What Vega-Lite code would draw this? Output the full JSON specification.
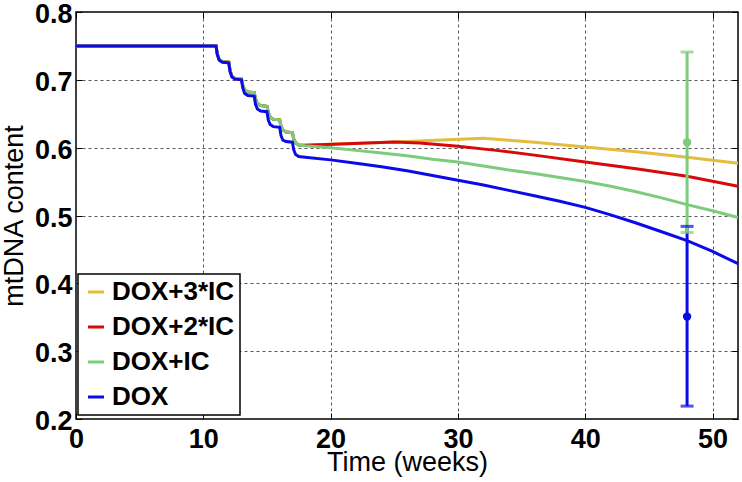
{
  "$schema": "https://vega.github.io/schema/vega-lite/v6.json",
  "width": 662,
  "height": 407,
  "autosize": {"type": "none"},
  "padding": {"left": 76, "top": 12, "right": 4, "bottom": 63},
  "background": "white",
  "config": {
    "view": {"stroke": "black", "strokeWidth": 1.5},
    "font": "Liberation Sans",
    "axis": {
      "domain": false,
      "grid": true,
      "gridDash": [3, 3],
      "gridColor": "#444444",
      "gridWidth": 0.9,
      "tickColor": "black",
      "tickSize": -6,
      "tickWidth": 1,
      "labelFont": "Liberation Sans",
      "labelFontWeight": "bold",
      "labelFontSize": 27,
      "labelColor": "black",
      "titleFont": "Liberation Sans",
      "titleFontWeight": "normal",
      "titleFontSize": 27,
      "titleColor": "black",
      "labelFlush": false,
      "labelOverlap": false
    },
    "legend": {
      "orient": "none",
      "legendX": 2,
      "legendY": 262,
      "strokeColor": "black",
      "strokeWidth": 1.5,
      "fillColor": "white",
      "padding": 5,
      "cornerRadius": 0,
      "symbolType": "stroke",
      "symbolSize": 256,
      "symbolStrokeWidth": 3,
      "labelFont": "Liberation Sans",
      "labelFontWeight": "bold",
      "labelFontSize": 26,
      "labelColor": "black",
      "labelLimit": 400,
      "labelOffset": 3,
      "rowPadding": 9
    }
  },
  "datasets": {
    "lines": [
      {"s": "DOX+3*IC", "t": 0, "v": 0.75}, {"s": "DOX+3*IC", "t": 11, "v": 0.75},
      {"s": "DOX+3*IC", "t": 11.1, "v": 0.738}, {"s": "DOX+3*IC", "t": 11.25, "v": 0.73}, {"s": "DOX+3*IC", "t": 11.5, "v": 0.727}, {"s": "DOX+3*IC", "t": 12, "v": 0.726},
      {"s": "DOX+3*IC", "t": 12.1, "v": 0.714}, {"s": "DOX+3*IC", "t": 12.25, "v": 0.705}, {"s": "DOX+3*IC", "t": 12.5, "v": 0.702}, {"s": "DOX+3*IC", "t": 13, "v": 0.701},
      {"s": "DOX+3*IC", "t": 13.1, "v": 0.692}, {"s": "DOX+3*IC", "t": 13.25, "v": 0.685}, {"s": "DOX+3*IC", "t": 13.5, "v": 0.682}, {"s": "DOX+3*IC", "t": 14, "v": 0.681},
      {"s": "DOX+3*IC", "t": 14.1, "v": 0.672}, {"s": "DOX+3*IC", "t": 14.25, "v": 0.665}, {"s": "DOX+3*IC", "t": 14.5, "v": 0.662}, {"s": "DOX+3*IC", "t": 15, "v": 0.661},
      {"s": "DOX+3*IC", "t": 15.1, "v": 0.652}, {"s": "DOX+3*IC", "t": 15.25, "v": 0.645}, {"s": "DOX+3*IC", "t": 15.5, "v": 0.642}, {"s": "DOX+3*IC", "t": 16, "v": 0.641},
      {"s": "DOX+3*IC", "t": 16.1, "v": 0.632}, {"s": "DOX+3*IC", "t": 16.25, "v": 0.626}, {"s": "DOX+3*IC", "t": 16.5, "v": 0.623}, {"s": "DOX+3*IC", "t": 17, "v": 0.622},
      {"s": "DOX+3*IC", "t": 17.1, "v": 0.613}, {"s": "DOX+3*IC", "t": 17.25, "v": 0.607}, {"s": "DOX+3*IC", "t": 17.5, "v": 0.604}, {"s": "DOX+3*IC", "t": 18, "v": 0.6035},
      {"s": "DOX+3*IC", "t": 25, "v": 0.6085}, {"s": "DOX+3*IC", "t": 32, "v": 0.614}, {"s": "DOX+3*IC", "t": 34, "v": 0.611}, {"s": "DOX+3*IC", "t": 36, "v": 0.608},
      {"s": "DOX+3*IC", "t": 40, "v": 0.601}, {"s": "DOX+3*IC", "t": 44, "v": 0.594}, {"s": "DOX+3*IC", "t": 48, "v": 0.586}, {"s": "DOX+3*IC", "t": 52, "v": 0.577},

      {"s": "DOX+2*IC", "t": 0, "v": 0.75}, {"s": "DOX+2*IC", "t": 11, "v": 0.75},
      {"s": "DOX+2*IC", "t": 11.1, "v": 0.738}, {"s": "DOX+2*IC", "t": 11.25, "v": 0.73}, {"s": "DOX+2*IC", "t": 11.5, "v": 0.727}, {"s": "DOX+2*IC", "t": 12, "v": 0.726},
      {"s": "DOX+2*IC", "t": 12.1, "v": 0.714}, {"s": "DOX+2*IC", "t": 12.25, "v": 0.705}, {"s": "DOX+2*IC", "t": 12.5, "v": 0.702}, {"s": "DOX+2*IC", "t": 13, "v": 0.701},
      {"s": "DOX+2*IC", "t": 13.1, "v": 0.692}, {"s": "DOX+2*IC", "t": 13.25, "v": 0.685}, {"s": "DOX+2*IC", "t": 13.5, "v": 0.682}, {"s": "DOX+2*IC", "t": 14, "v": 0.681},
      {"s": "DOX+2*IC", "t": 14.1, "v": 0.672}, {"s": "DOX+2*IC", "t": 14.25, "v": 0.665}, {"s": "DOX+2*IC", "t": 14.5, "v": 0.662}, {"s": "DOX+2*IC", "t": 15, "v": 0.661},
      {"s": "DOX+2*IC", "t": 15.1, "v": 0.652}, {"s": "DOX+2*IC", "t": 15.25, "v": 0.645}, {"s": "DOX+2*IC", "t": 15.5, "v": 0.642}, {"s": "DOX+2*IC", "t": 16, "v": 0.641},
      {"s": "DOX+2*IC", "t": 16.1, "v": 0.632}, {"s": "DOX+2*IC", "t": 16.25, "v": 0.626}, {"s": "DOX+2*IC", "t": 16.5, "v": 0.623}, {"s": "DOX+2*IC", "t": 17, "v": 0.622},
      {"s": "DOX+2*IC", "t": 17.1, "v": 0.613}, {"s": "DOX+2*IC", "t": 17.25, "v": 0.607}, {"s": "DOX+2*IC", "t": 17.5, "v": 0.604}, {"s": "DOX+2*IC", "t": 18, "v": 0.6035},
      {"s": "DOX+2*IC", "t": 25, "v": 0.6085}, {"s": "DOX+2*IC", "t": 27, "v": 0.607}, {"s": "DOX+2*IC", "t": 30, "v": 0.602}, {"s": "DOX+2*IC", "t": 33, "v": 0.596},
      {"s": "DOX+2*IC", "t": 36, "v": 0.589}, {"s": "DOX+2*IC", "t": 40, "v": 0.579}, {"s": "DOX+2*IC", "t": 44, "v": 0.569}, {"s": "DOX+2*IC", "t": 48, "v": 0.558}, {"s": "DOX+2*IC", "t": 52, "v": 0.543},

      {"s": "DOX+IC", "t": 0, "v": 0.75}, {"s": "DOX+IC", "t": 11, "v": 0.75},
      {"s": "DOX+IC", "t": 11.1, "v": 0.738}, {"s": "DOX+IC", "t": 11.25, "v": 0.73}, {"s": "DOX+IC", "t": 11.5, "v": 0.727}, {"s": "DOX+IC", "t": 12, "v": 0.726},
      {"s": "DOX+IC", "t": 12.1, "v": 0.714}, {"s": "DOX+IC", "t": 12.25, "v": 0.705}, {"s": "DOX+IC", "t": 12.5, "v": 0.702}, {"s": "DOX+IC", "t": 13, "v": 0.701},
      {"s": "DOX+IC", "t": 13.1, "v": 0.692}, {"s": "DOX+IC", "t": 13.25, "v": 0.685}, {"s": "DOX+IC", "t": 13.5, "v": 0.682}, {"s": "DOX+IC", "t": 14, "v": 0.681},
      {"s": "DOX+IC", "t": 14.1, "v": 0.672}, {"s": "DOX+IC", "t": 14.25, "v": 0.665}, {"s": "DOX+IC", "t": 14.5, "v": 0.662}, {"s": "DOX+IC", "t": 15, "v": 0.661},
      {"s": "DOX+IC", "t": 15.1, "v": 0.652}, {"s": "DOX+IC", "t": 15.25, "v": 0.645}, {"s": "DOX+IC", "t": 15.5, "v": 0.642}, {"s": "DOX+IC", "t": 16, "v": 0.641},
      {"s": "DOX+IC", "t": 16.1, "v": 0.632}, {"s": "DOX+IC", "t": 16.25, "v": 0.626}, {"s": "DOX+IC", "t": 16.5, "v": 0.623}, {"s": "DOX+IC", "t": 17, "v": 0.622},
      {"s": "DOX+IC", "t": 17.1, "v": 0.613}, {"s": "DOX+IC", "t": 17.25, "v": 0.607}, {"s": "DOX+IC", "t": 17.5, "v": 0.604}, {"s": "DOX+IC", "t": 18, "v": 0.603},
      {"s": "DOX+IC", "t": 20, "v": 0.6}, {"s": "DOX+IC", "t": 22, "v": 0.596}, {"s": "DOX+IC", "t": 24, "v": 0.592}, {"s": "DOX+IC", "t": 26, "v": 0.588},
      {"s": "DOX+IC", "t": 28, "v": 0.583}, {"s": "DOX+IC", "t": 30, "v": 0.579}, {"s": "DOX+IC", "t": 32, "v": 0.573}, {"s": "DOX+IC", "t": 34, "v": 0.567},
      {"s": "DOX+IC", "t": 36, "v": 0.562}, {"s": "DOX+IC", "t": 38, "v": 0.556}, {"s": "DOX+IC", "t": 40, "v": 0.55}, {"s": "DOX+IC", "t": 42, "v": 0.543},
      {"s": "DOX+IC", "t": 44, "v": 0.535}, {"s": "DOX+IC", "t": 46, "v": 0.526}, {"s": "DOX+IC", "t": 48, "v": 0.516}, {"s": "DOX+IC", "t": 50, "v": 0.507}, {"s": "DOX+IC", "t": 52, "v": 0.497},

      {"s": "DOX", "t": 0, "v": 0.75}, {"s": "DOX", "t": 11, "v": 0.75},
      {"s": "DOX", "t": 11.1, "v": 0.737}, {"s": "DOX", "t": 11.25, "v": 0.729}, {"s": "DOX", "t": 11.5, "v": 0.726}, {"s": "DOX", "t": 12, "v": 0.725},
      {"s": "DOX", "t": 12.1, "v": 0.712}, {"s": "DOX", "t": 12.25, "v": 0.704}, {"s": "DOX", "t": 12.5, "v": 0.701}, {"s": "DOX", "t": 13, "v": 0.7},
      {"s": "DOX", "t": 13.1, "v": 0.688}, {"s": "DOX", "t": 13.25, "v": 0.68}, {"s": "DOX", "t": 13.5, "v": 0.677}, {"s": "DOX", "t": 14, "v": 0.676},
      {"s": "DOX", "t": 14.1, "v": 0.664}, {"s": "DOX", "t": 14.25, "v": 0.657}, {"s": "DOX", "t": 14.5, "v": 0.654}, {"s": "DOX", "t": 15, "v": 0.653},
      {"s": "DOX", "t": 15.1, "v": 0.641}, {"s": "DOX", "t": 15.25, "v": 0.634}, {"s": "DOX", "t": 15.5, "v": 0.631}, {"s": "DOX", "t": 16, "v": 0.63},
      {"s": "DOX", "t": 16.1, "v": 0.618}, {"s": "DOX", "t": 16.25, "v": 0.611}, {"s": "DOX", "t": 16.5, "v": 0.609}, {"s": "DOX", "t": 17, "v": 0.608},
      {"s": "DOX", "t": 17.1, "v": 0.597}, {"s": "DOX", "t": 17.25, "v": 0.59}, {"s": "DOX", "t": 17.5, "v": 0.587}, {"s": "DOX", "t": 18, "v": 0.586},
      {"s": "DOX", "t": 20, "v": 0.582}, {"s": "DOX", "t": 22, "v": 0.577}, {"s": "DOX", "t": 24, "v": 0.572}, {"s": "DOX", "t": 26, "v": 0.566},
      {"s": "DOX", "t": 28, "v": 0.559}, {"s": "DOX", "t": 30, "v": 0.552}, {"s": "DOX", "t": 32, "v": 0.545}, {"s": "DOX", "t": 34, "v": 0.537},
      {"s": "DOX", "t": 36, "v": 0.529}, {"s": "DOX", "t": 38, "v": 0.521}, {"s": "DOX", "t": 40, "v": 0.512}, {"s": "DOX", "t": 42, "v": 0.501},
      {"s": "DOX", "t": 44, "v": 0.489}, {"s": "DOX", "t": 46, "v": 0.476}, {"s": "DOX", "t": 48, "v": 0.463}, {"s": "DOX", "t": 50, "v": 0.447}, {"s": "DOX", "t": 52, "v": 0.429}
    ],
    "err": [
      {"s": "DOX", "t": 48, "m": 0.351, "lo": 0.219, "hi": 0.484},
      {"s": "DOX+IC", "t": 48, "m": 0.608, "lo": 0.475, "hi": 0.741}
    ]
  },
  "layer": [
    {
      "data": {"name": "lines"},
      "mark": {"type": "line", "strokeWidth": 3, "interpolate": "linear"},
      "encoding": {
        "x": {"field": "t", "type": "quantitative", "scale": {"domain": [0, 52], "nice": false, "zero": false},
              "axis": {"orient": "bottom", "values": [0, 10, 20, 30, 40, 50], "title": "Time (weeks)", "labelPadding": 13, "titleY": 51, "titleBaseline": "alphabetic"}},
        "y": {"field": "v", "type": "quantitative", "scale": {"domain": [0.2, 0.8], "nice": false, "zero": false},
              "axis": {"orient": "left", "values": [0.2, 0.3, 0.4, 0.5, 0.6, 0.7, 0.8], "format": ".1f", "title": "mtDNA content", "labelPadding": 10, "labelOffset": 2.5, "titleX": -54, "titleBaseline": "alphabetic"}},
        "color": {"field": "s", "type": "nominal",
                  "scale": {"domain": ["DOX+3*IC", "DOX+2*IC", "DOX+IC", "DOX"], "range": ["#E5BC3B", "#D60A0A", "#7DCB7D", "#0B0BE8"]},
                  "legend": {"title": null}},
        "detail": {"field": "s"}
      }
    },
    {
      "data": {"name": "err"},
      "mark": {"type": "rule", "strokeWidth": 3},
      "encoding": {
        "x": {"field": "t", "type": "quantitative", "axis": {"orient": "top", "values": [0, 10, 20, 30, 40, 50], "labels": false, "grid": false, "title": null}},
        "y": {"field": "lo", "type": "quantitative", "axis": {"orient": "right", "values": [0.2, 0.3, 0.4, 0.5, 0.6, 0.7, 0.8], "labels": false, "grid": false, "title": null}},
        "y2": {"field": "hi"},
        "color": {"field": "s", "type": "nominal", "legend": null}
      }
    },
    {
      "data": {"name": "err"},
      "mark": {"type": "tick", "orient": "horizontal", "size": 13, "thickness": 3},
      "encoding": {
        "x": {"field": "t", "type": "quantitative", "axis": null},
        "y": {"field": "lo", "type": "quantitative", "axis": null},
        "color": {"field": "s", "type": "nominal", "legend": null}
      }
    },
    {
      "data": {"name": "err"},
      "mark": {"type": "tick", "orient": "horizontal", "size": 13, "thickness": 3},
      "encoding": {
        "x": {"field": "t", "type": "quantitative", "axis": null},
        "y": {"field": "hi", "type": "quantitative", "axis": null},
        "color": {"field": "s", "type": "nominal", "legend": null}
      }
    },
    {
      "data": {"name": "err"},
      "mark": {"type": "point", "filled": true, "size": 70, "opacity": 1},
      "encoding": {
        "x": {"field": "t", "type": "quantitative", "axis": null},
        "y": {"field": "m", "type": "quantitative", "axis": null},
        "color": {"field": "s", "type": "nominal", "legend": null}
      }
    }
  ],
  "resolve": {"axis": {"x": "independent", "y": "independent"}}
}
